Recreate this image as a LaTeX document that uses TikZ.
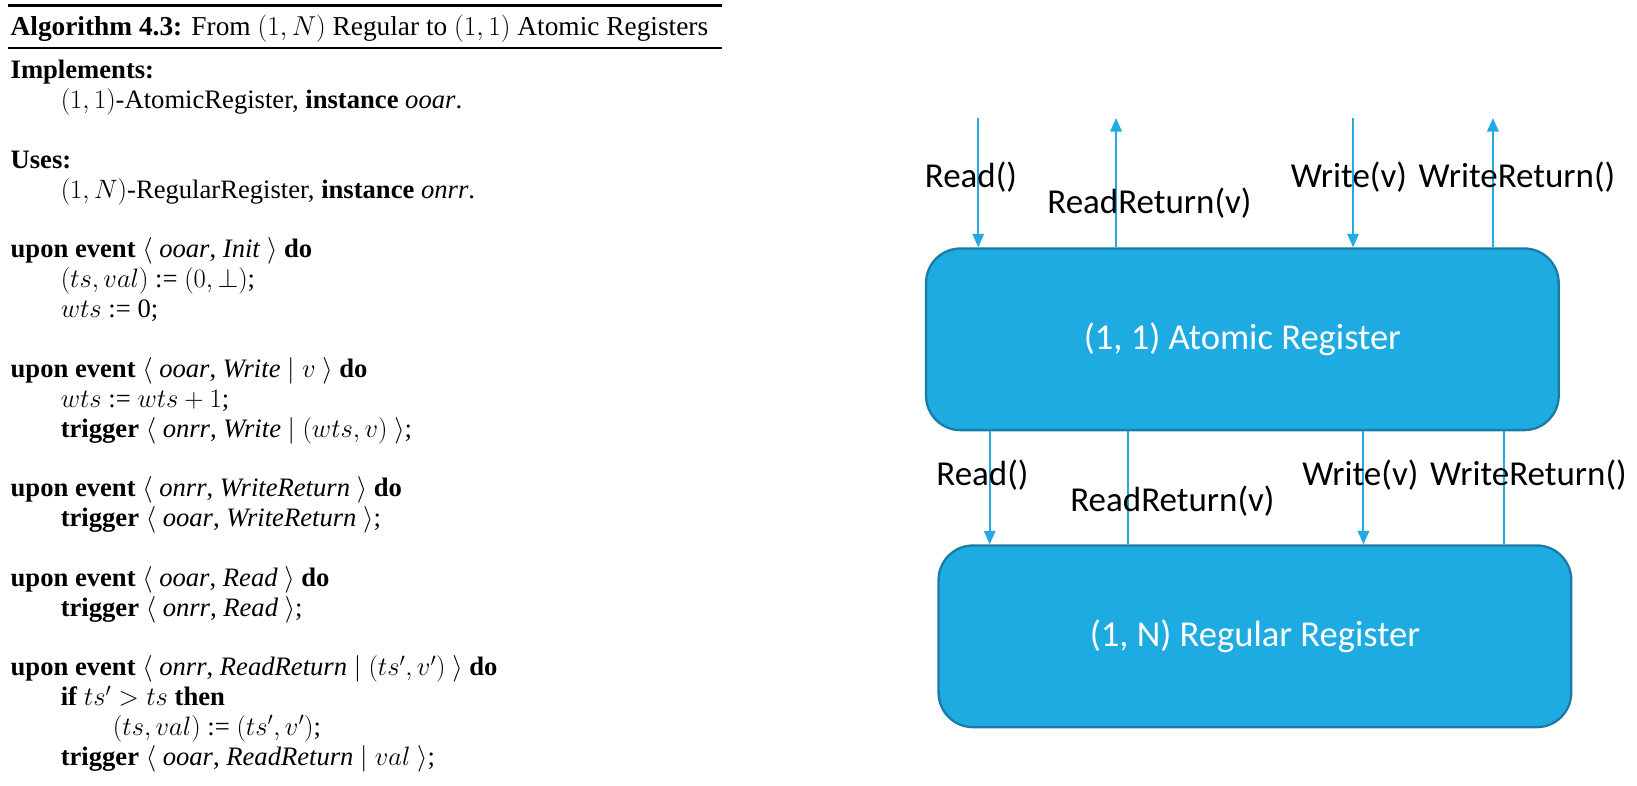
\RequirePackage{fix-cm}
\documentclass[tikz,border=0pt]{standalone}
\usepackage[no-math]{fontspec}
\setmainfont{Liberation Serif}
\newfontfamily\calibri{Carlito}
\usetikzlibrary{arrows.meta}
\definecolor{boxfill}{RGB}{30,171,226}
\definecolor{boxline}{RGB}{26,124,166}
\definecolor{arrowc}{RGB}{36,170,226}
\begin{document}
\begin{tikzpicture}[x=1pt,y=-1pt,
  algline/.style={anchor=base west,inner sep=0pt,font=\fontsize{25.5}{28.6}\selectfont},
  reg/.style={draw=boxline,line width=2.2pt,fill=boxfill,rounded corners=33pt,minimum width=606pt,minimum height=174pt,text=white,font=\calibri\fontsize{35}{40}\selectfont},
  lbl/.style={inner sep=0pt,font=\calibri\fontsize{33.5}{40}\selectfont},
  sig/.style={draw=arrowc,line width=1.9pt},
  sigarrow/.style={sig,-{Triangle[length=13pt,width=11pt]}}]
\useasboundingbox (0,0) rectangle (1568,752);
% rules
\draw[line width=2.6pt] (8,5) coordinate (ra) -- (692,5) coordinate (rb);
\draw[line width=1.4pt] (8,46) coordinate (rc) -- (692,46) coordinate (rd);
% algorithm text
\node[algline,font=\fontsize{26.2}{28.6}\selectfont] (t0) at (10,34) {\textbf{Algorithm 4.3:} From $(1,N)$ Regular to $(1,1)$ Atomic Registers};
\node[algline] (t1) at (10,75) {\textbf{Implements:}};
\node[algline] (t2) at (58,104) {$(1,1)$-AtomicRegister, \textbf{instance} \textit{ooar}.};
\node[algline] (t3) at (10,161) {\textbf{Uses:}};
\node[algline] (t4) at (58,190) {$(1,N)$-RegularRegister, \textbf{instance} \textit{onrr}.};
\node[algline] (t5) at (10,247) {\textbf{upon event} $\langle$ \textit{ooar}, \textit{Init} $\rangle$ \textbf{do}};
\node[algline] (t6) at (58,275.6) {$(ts,val)$ := $(0,\bot)$;};
\node[algline] (t7) at (58,304.2) {$wts$ := 0;};
\node[algline] (t8) at (10,361.4) {\textbf{upon event} $\langle$ \textit{ooar}, \textit{Write} $\mid v$ $\rangle$ \textbf{do}};
\node[algline] (t9) at (58,390) {$wts$ := $wts+1$;};
\node[algline] (t10) at (58,418.6) {\textbf{trigger} $\langle$ \textit{onrr}, \textit{Write} $\mid (wts,v)$ $\rangle$;};
\node[algline] (t11) at (10,475.8) {\textbf{upon event} $\langle$ \textit{onrr}, \textit{WriteReturn} $\rangle$ \textbf{do}};
\node[algline] (t12) at (58,504.4) {\textbf{trigger} $\langle$ \textit{ooar}, \textit{WriteReturn} $\rangle$;};
\node[algline] (t13) at (10,561.6) {\textbf{upon event} $\langle$ \textit{ooar}, \textit{Read} $\rangle$ \textbf{do}};
\node[algline] (t14) at (58,590.2) {\textbf{trigger} $\langle$ \textit{onrr}, \textit{Read} $\rangle$;};
\node[algline] (t15) at (10,647.4) {\textbf{upon event} $\langle$ \textit{onrr}, \textit{ReadReturn} $\mid (ts',v')$ $\rangle$ \textbf{do}};
\node[algline] (t16) at (58,676) {\textbf{if} $ts'>ts$ \textbf{then}};
\node[algline] (t17) at (108,704.6) {$(ts,val)$ := $(ts',v')$;};
\node[algline] (t18) at (58,733.2) {\textbf{trigger} $\langle$ \textit{ooar}, \textit{ReadReturn} $\mid val$ $\rangle$;};
% boxes
\node[reg] (A) at (1190,325) {(1, 1) Atomic Register};
\node[reg] (B) at (1202,609.5) {(1, N) Regular Register};
% free ends
\coordinate (e1) at (937,113);
\coordinate (e2) at (1069,113);
\coordinate (e3) at (1296,113);
\coordinate (e4) at (1430,113);
% top signals
\draw[sigarrow] (e1) -- (e1 |- A.north);
\draw[sigarrow] (e2 |- A.north) -- (e2);
\draw[sigarrow] (e3) -- (e3 |- A.north);
\draw[sigarrow] (e4 |- A.north) -- (e4);
% lower signals
\coordinate (f1) at (948,0);
\coordinate (f2) at (1080,0);
\coordinate (f3) at (1306,0);
\coordinate (f4) at (1441,0);
\draw[sigarrow] (f1 |- A.south) -- (f1 |- B.north);
\draw[sig] (f2 |- B.north) -- (f2 |- A.south);
\draw[sigarrow] (f3 |- A.south) -- (f3 |- B.north);
\draw[sig] (f4 |- B.north) -- (f4 |- A.south);
% labels
\node[lbl] (l1) at (930,170) {Read()};
\node[lbl] (l2) at (1101,195) {ReadReturn(v)};
\node[lbl] (l3) at (1292,170) {Write(v)};
\node[lbl] (l4) at (1453,170) {WriteReturn()};
\node[lbl] (l5) at (941,455) {Read()};
\node[lbl] (l6) at (1123,480) {ReadReturn(v)};
\node[lbl] (l7) at (1303,455) {Write(v)};
\node[lbl] (l8) at (1464,455) {WriteReturn()};
\end{tikzpicture}
\end{document}
